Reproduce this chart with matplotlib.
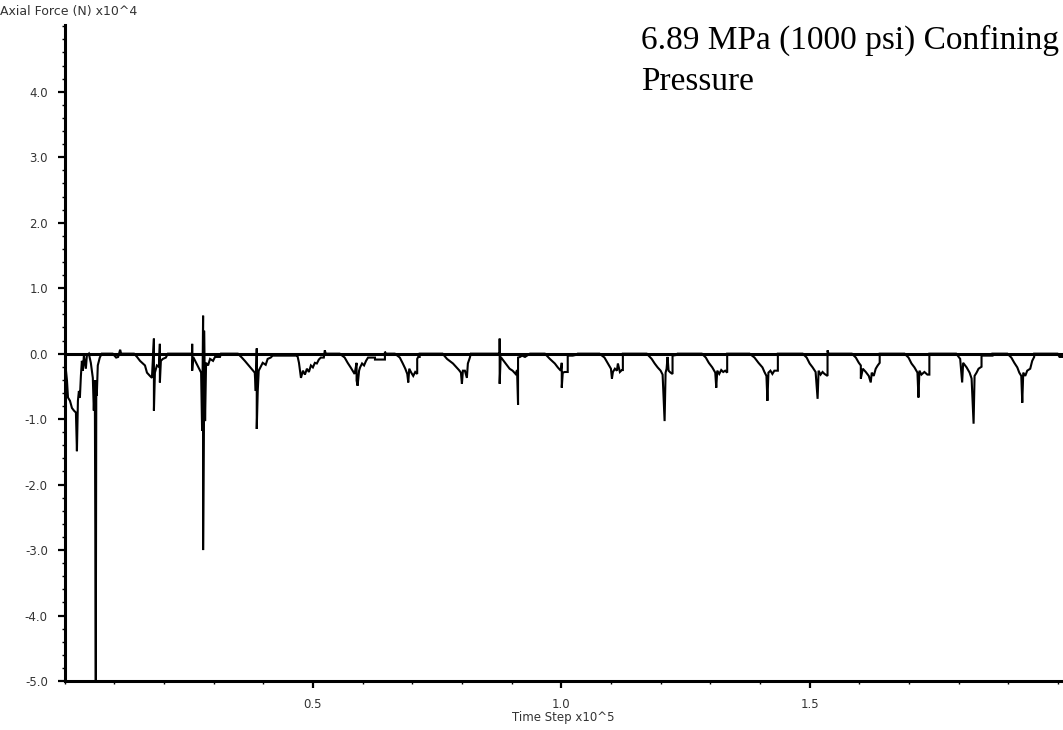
import numpy as np
import matplotlib
matplotlib.use("Agg")
import matplotlib.pyplot as plt
from matplotlib.ticker import MultipleLocator, FixedLocator

# ---- data (time step x10^5, axial force x10^4 N) ----
t_early = [0.001, 0.003, 0.005, 0.007, 0.011, 0.015, 0.019, 0.023, 0.025, 0.027,
           0.029, 0.031, 0.033, 0.035, 0.037, 0.039, 0.043, 0.045, 0.049, 0.053,
           0.057, 0.059, 0.061, 0.063, 0.064, 0.065, 0.067, 0.071, 0.075, 0.097,
           0.104, 0.108, 0.112, 0.114, 0.140, 0.146, 0.152, 0.162, 0.166, 0.172,
           0.176, 0.180, 0.180, 0.182, 0.186, 0.190, 0.192, 0.192, 0.194, 0.198,
           0.204, 0.208, 0.254, 0.257, 0.257, 0.257, 0.259, 0.265, 0.271, 0.275,
           0.277, 0.279, 0.279, 0.281, 0.281, 0.283, 0.285, 0.289, 0.293, 0.299,
           0.303, 0.313, 0.315, 0.349]
f_early = [0.0, -0.26, -0.41, -0.67, -0.72, -0.83, -0.87, -0.90, -1.49, -0.72,
           -0.57, -0.67, -0.34, -0.11, -0.26, -0.03, -0.23, -0.03, 0.0, -0.14,
           -0.37, -0.87, -0.41, -5.0, -0.41, -0.64, -0.18, -0.06, 0.0, 0.0,
           -0.06, -0.05, 0.06, 0.0, 0.0, -0.05, -0.11, -0.18, -0.29, -0.34,
           -0.37, 0.23, -0.87, -0.29, -0.18, -0.20, 0.15, -0.44, -0.11, -0.08,
           -0.06, 0.0, 0.0, 0.0, 0.15, -0.26, -0.05, -0.14, -0.23, -0.29,
           -1.18, 0.58, -3.0, -0.34, 0.35, -1.03, -0.14, -0.18, -0.08, -0.11,
           -0.05, -0.05, 0.0, 0.0]

t_mid = [0.357, 0.363, 0.373, 0.383, 0.385, 0.387, 0.387, 0.389, 0.391, 0.395,
         0.399, 0.405, 0.409, 0.415, 0.419, 0.468, 0.468, 0.472, 0.476, 0.480,
         0.484, 0.488, 0.492, 0.496, 0.500, 0.504, 0.508, 0.512, 0.516, 0.522,
         0.524, 0.526, 0.554, 0.564, 0.570, 0.576, 0.580, 0.584, 0.588, 0.588,
         0.590, 0.593, 0.595, 0.599, 0.603, 0.607, 0.611, 0.625, 0.625, 0.645,
         0.645, 0.647, 0.665, 0.675, 0.681, 0.686, 0.690, 0.692, 0.694, 0.698,
         0.702, 0.706, 0.710, 0.710, 0.712, 0.715, 0.715, 0.761, 0.770, 0.775,
         0.782, 0.788, 0.794, 0.798, 0.800, 0.802, 0.806, 0.810, 0.812, 0.816,
         0.818, 0.876, 0.876, 0.876, 0.878, 0.884, 0.890, 0.896, 0.902, 0.908,
         0.911, 0.913, 0.913, 0.917, 0.921, 0.927, 0.933, 0.937, 0.967, 0.977,
         0.987, 0.993, 0.999, 1.001, 1.001, 1.003, 1.007, 1.013, 1.013, 1.023,
         1.029, 1.033, 1.077, 1.087, 1.094, 1.100, 1.102, 1.104, 1.108, 1.112,
         1.114, 1.118, 1.122, 1.124, 1.124, 1.172, 1.182, 1.188, 1.194, 1.200,
         1.204, 1.208, 1.210, 1.212, 1.214, 1.216, 1.220, 1.224, 1.224, 1.232,
         1.234]
f_mid = [-0.06, -0.11, -0.20, -0.29, -0.57, 0.08, -1.15, -0.57, -0.26, -0.20,
         -0.14, -0.17, -0.08, -0.06, -0.03, -0.03, 0.0, -0.14, -0.37, -0.26,
         -0.32, -0.23, -0.28, -0.18, -0.21, -0.14, -0.15, -0.09, -0.06, -0.06,
         0.05, 0.0, 0.0, -0.06, -0.14, -0.21, -0.26, -0.31, -0.14, -0.41,
         -0.49, -0.26, -0.21, -0.15, -0.18, -0.11, -0.06, -0.06, -0.09, -0.09,
         0.03, 0.0, 0.0, -0.06, -0.15, -0.23, -0.31, -0.44, -0.23, -0.29,
         -0.34, -0.28, -0.31, -0.08, -0.05, -0.05, 0.0, 0.0, -0.08, -0.11,
         -0.15, -0.20, -0.25, -0.29, -0.46, -0.26, -0.26, -0.37, -0.15, -0.06,
         0.0, 0.0, 0.23, -0.46, -0.05, -0.11, -0.17, -0.23, -0.26, -0.31,
         -0.25, -0.78, -0.06, -0.05, -0.03, -0.05, -0.02, 0.0, 0.0, -0.08,
         -0.15, -0.21, -0.26, -0.14, -0.52, -0.29, -0.28, -0.28, -0.03, -0.03,
         -0.02, 0.0, 0.0, -0.06, -0.15, -0.23, -0.38, -0.28, -0.23, -0.26,
         -0.15, -0.28, -0.25, -0.25, 0.0, 0.0, -0.08, -0.15, -0.21, -0.26,
         -0.32, -1.03, -0.29, -0.23, -0.05, -0.26, -0.29, -0.31, -0.03, -0.02,
         0.0]

t_late = [1.283, 1.291, 1.297, 1.304, 1.310, 1.312, 1.314, 1.318, 1.322, 1.326,
          1.330, 1.334, 1.334, 1.379, 1.389, 1.397, 1.405, 1.409, 1.413, 1.415,
          1.417, 1.421, 1.425, 1.429, 1.436, 1.436, 1.486, 1.494, 1.500, 1.506,
          1.512, 1.516, 1.518, 1.522, 1.526, 1.530, 1.536, 1.536, 1.538, 1.585,
          1.593, 1.599, 1.603, 1.603, 1.607, 1.613, 1.619, 1.623, 1.625, 1.629,
          1.633, 1.637, 1.641, 1.641, 1.691, 1.699, 1.705, 1.711, 1.717, 1.719,
          1.721, 1.725, 1.731, 1.737, 1.741, 1.741, 1.795, 1.803, 1.807, 1.809,
          1.816, 1.822, 1.826, 1.830, 1.832, 1.836, 1.840, 1.846, 1.846, 1.868,
          1.868, 1.898, 1.906, 1.912, 1.918, 1.922, 1.926, 1.928, 1.930, 1.934,
          1.938, 1.944, 1.948, 1.952, 1.952, 1.999, 2.003, 2.010]
f_late = [0.0, -0.06, -0.14, -0.21, -0.29, -0.52, -0.26, -0.31, -0.25, -0.28,
          -0.26, -0.29, 0.0, 0.0, -0.06, -0.14, -0.21, -0.28, -0.34, -0.72,
          -0.29, -0.26, -0.31, -0.26, -0.26, 0.0, 0.0, -0.06, -0.15, -0.21,
          -0.28, -0.69, -0.26, -0.32, -0.28, -0.31, -0.34, 0.05, 0.0, 0.0,
          -0.06, -0.14, -0.18, -0.38, -0.23, -0.28, -0.34, -0.44, -0.29, -0.34,
          -0.23, -0.18, -0.14, 0.0, 0.0, -0.06, -0.15, -0.21, -0.29, -0.67,
          -0.26, -0.32, -0.28, -0.32, -0.32, 0.0, 0.0, -0.08, -0.44, -0.14,
          -0.21, -0.29, -0.38, -1.07, -0.34, -0.29, -0.23, -0.20, -0.03, -0.03,
          0.0, 0.0, -0.06, -0.14, -0.21, -0.29, -0.34, -0.75, -0.29, -0.34,
          -0.26, -0.23, -0.11, -0.05, 0.0, 0.0, -0.05, -0.05]

x_major = [0.5, 1.0, 1.5]
x_labels = ["0.5", "1.0", "1.5"]
y_major = [-5.0, -4.0, -3.0, -2.0, -1.0, 0.0, 1.0, 2.0, 3.0, 4.0]
y_labels = ["-5.0", "-4.0", "-3.0", "-2.0", "-1.0", "0.0", "1.0", "2.0", "3.0", "4.0"]

y_title = "Axial Force (N) x10^4"
x_title = "Time Step x10^5"
note = "6.89 MPa (1000 psi) Confining\nPressure"

# ---- figure ----
fig = plt.figure(figsize=(10.63, 7.30), dpi=100)
ax = fig.add_axes([64.5 / 1063, 49 / 730, 1 - 64.5 / 1063, 656 / 730])

t_all = t_early + t_mid + t_late
f_all = f_early + f_mid + f_late
ax.axhline(0.0, color="black", lw=2.2, zorder=2)
ax.plot(t_all, f_all, color="black", lw=1.5, zorder=3, solid_joinstyle="miter")

ax.set_xlim(0.0, 2.01)
ax.set_ylim(-5.0, 5.02)

for s in ["top", "right"]:
    ax.spines[s].set_visible(False)
for s in ["left", "bottom"]:
    ax.spines[s].set_linewidth(2.2)

ax.xaxis.set_major_locator(FixedLocator(x_major))
ax.set_xticklabels(x_labels)
ax.xaxis.set_minor_locator(MultipleLocator(0.1))
ax.yaxis.set_major_locator(FixedLocator(y_major))
ax.set_yticklabels(y_labels)
ax.yaxis.set_minor_locator(MultipleLocator(0.2))

ax.tick_params(axis="both", which="major", direction="out", length=5, width=1.6,
               labelsize=8.5, labelcolor="#333333")
ax.tick_params(axis="both", which="minor", direction="out", length=2.2, width=1.0)
ax.tick_params(axis="y", which="major", pad=7)
ax.tick_params(axis="x", which="major", pad=7)

fig.text(0.0, 1 - 12 / 730, y_title, fontsize=9, color="#333333",
         ha="left", va="center")
fig.text((64.5 + 1063) / 2 / 1063, 1 - 717 / 730, x_title, fontsize=8.5,
         color="#333333", ha="center", va="center")
fig.text(641 / 1063, 1 - 25 / 730, note, fontsize=24, family="Liberation Serif",
         ha="left", va="top", linespacing=1.45, color="black")

fig.savefig("out.png", dpi=100)
